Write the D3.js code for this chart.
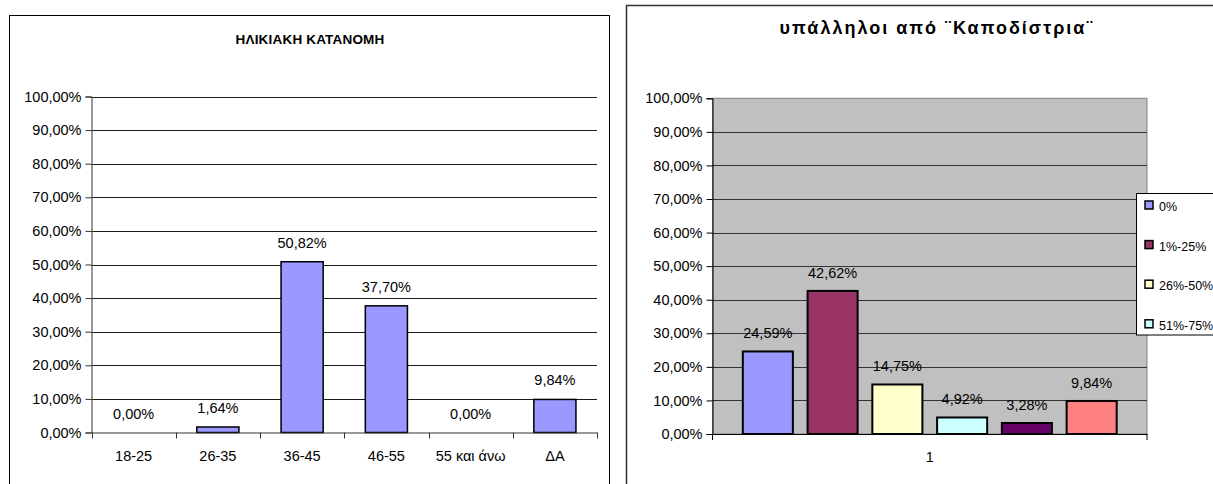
<!DOCTYPE html>
<html>
<head>
<meta charset="utf-8">
<script src="https://cdn.jsdelivr.net/npm/d3@7"></script>
<style>
  body { margin: 0; background: #fff; }
  svg { display: block; }
  text { font-family: "Liberation Sans", Arial, sans-serif; fill: #000; }
</style>
</head>
<body>
<svg id="chart" width="1213" height="484"></svg>
<script>
// Age distribution (left panel)
const ageGroups = ["18-25", "26-35", "36-45", "46-55", "55 και άνω", "ΔΑ"];
const ageShares = [0, 1.64, 50.82, 37.70, 0, 9.84];

// Staff from "Kapodistrias" (right panel): one category, six series
const staffCategories = ["1"];
const staffShares = [24.59, 42.62, 14.75, 4.92, 3.28, 9.84];
const staffColors = ["#9999FF", "#993366", "#FFFFCC", "#CCFFFF", "#660066", "#FF8080"];
const legendLabels = ["0%", "1%-25%", "26%-50%", "51%-75%"];

// Shared percentage ticks
const yTicks = [0, 10, 20, 30, 40, 50, 60, 70, 80, 90, 100];

const pct = v => v.toFixed(2).replace(".", ",") + "%";
const svg = d3.select("#chart");
const FONT = "Liberation Sans, Arial, sans-serif";

/* ---------------- Left panel: ΗΛΙΚΙΑΚΗ ΚΑΤΑΝΟΜΗ ---------------- */
{
  const g = svg.append("g");
  g.append("rect").attr("x", 9.5).attr("y", 15.5).attr("width", 600).attr("height", 480)
    .attr("fill", "#fff").attr("stroke", "#000").attr("stroke-width", 1);

  g.append("text").attr("x", 310).attr("y", 43.5).attr("text-anchor", "middle")
    .attr("font-size", 13.5).attr("font-weight", "bold").attr("letter-spacing", 0.2)
    .text("ΗΛΙΚΙΑΚΗ ΚΑΤΑΝΟΜΗ");

  const left = 91.5, right = 597;
  const x = d3.scaleBand().domain(ageGroups).range([left, right]).paddingInner(0.5).paddingOuter(0.25);
  const y = d3.scaleLinear().domain([0, 100]).range([432.5, 96.5]);

  // gridlines
  g.append("g").selectAll("line").data(yTicks.filter(t => t > 0)).join("line")
    .attr("x1", left).attr("x2", right)
    .attr("y1", d => Math.round(y(d)) + 0.5).attr("y2", d => Math.round(y(d)) + 0.5)
    .attr("stroke", "#1a1a1a").attr("stroke-width", 1);

  // y axis
  const ya = g.append("g").attr("transform", `translate(${left},0)`)
    .call(d3.axisLeft(y).tickValues(yTicks).tickSize(6).tickPadding(4).tickFormat(pct));
  ya.select(".domain").attr("stroke", "#333");
  ya.selectAll(".tick line").attr("stroke", "#333");
  ya.selectAll("text").attr("font-size", 14.5).attr("font-family", FONT).attr("fill", "#000");

  // bars
  g.append("g").selectAll("rect").data(ageShares).join("rect")
    .attr("x", (d, i) => x(ageGroups[i]))
    .attr("y", d => y(d))
    .attr("width", x.bandwidth())
    .attr("height", d => y(0) - y(d))
    .attr("fill", "#9999FF").attr("stroke", "#000").attr("stroke-width", 1.5)
    .attr("display", d => d > 0 ? null : "none");

  // value labels
  g.append("g").selectAll("text").data(ageShares).join("text")
    .attr("x", (d, i) => x(ageGroups[i]) + x.bandwidth() / 2)
    .attr("y", d => y(d) - 14)
    .attr("text-anchor", "middle").attr("font-size", 14.5).text(d => pct(d));

  // x axis: baseline, category boundary ticks, labels
  const xa = g.append("g").attr("transform", `translate(0,${y(0)})`)
    .call(d3.axisBottom(x).tickSize(0).tickPadding(18));
  xa.select(".domain").attr("stroke", "#333");
  xa.selectAll("text").attr("font-size", 14.5).attr("font-family", FONT).attr("fill", "#000");
  const bounds = ageGroups.map(c => x(c) - x.step() * x.paddingInner() / 2).concat([right]);
  bounds[0] = left;
  g.append("g").selectAll("line").data(bounds).join("line")
    .attr("x1", d => Math.round(d) + 0.5).attr("x2", d => Math.round(d) + 0.5)
    .attr("y1", y(0)).attr("y2", y(0) + 6).attr("stroke", "#333");
}

/* ---------------- Right panel: υπάλληλοι από ¨Καποδίστρια¨ ---------------- */
{
  const g = svg.append("g");
  g.append("rect").attr("x", 626.5).attr("y", 5.5).attr("width", 620).attr("height", 500)
    .attr("fill", "#fff").attr("stroke", "#333").attr("stroke-width", 1.5);

  g.append("text").attr("x", 937).attr("y", 33.5).attr("text-anchor", "middle")
    .attr("font-size", 18).attr("font-weight", "bold").attr("letter-spacing", 2)
    .text("υπάλληλοι από ¨Καποδίστρια¨");

  const left = 712.5, right = 1147;
  const x0 = d3.scaleBand().domain(staffCategories).range([left, right]);
  const x1 = d3.scaleBand().domain(d3.range(staffShares.length)).range([0, x0.bandwidth()])
    .paddingInner(0.227).paddingOuter(0.468);
  const y = d3.scaleLinear().domain([0, 100]).range([434, 98.3]);

  // plot area
  g.append("rect").attr("x", left).attr("y", y(100)).attr("width", right - left).attr("height", y(0) - y(100))
    .attr("fill", "#C0C0C0").attr("stroke", "#808080").attr("stroke-width", 1);

  // gridlines
  g.append("g").selectAll("line").data(yTicks.filter(t => t > 0 && t < 100)).join("line")
    .attr("x1", left).attr("x2", right)
    .attr("y1", d => Math.round(y(d)) + 0.5).attr("y2", d => Math.round(y(d)) + 0.5)
    .attr("stroke", "#333").attr("stroke-width", 1);

  // y axis
  const ya = g.append("g").attr("transform", `translate(${left},0)`)
    .call(d3.axisLeft(y).tickValues(yTicks).tickSize(6).tickPadding(4).tickFormat(pct));
  ya.select(".domain").attr("stroke", "#000");
  ya.selectAll(".tick line").attr("stroke", "#000");
  ya.selectAll("text").attr("font-size", 14.5).attr("font-family", FONT).attr("fill", "#000");

  // bars
  g.append("g").selectAll("rect").data(staffShares).join("rect")
    .attr("x", (d, i) => x0("1") + x1(i))
    .attr("y", d => y(d))
    .attr("width", x1.bandwidth())
    .attr("height", d => y(0) - y(d))
    .attr("fill", (d, i) => staffColors[i]).attr("stroke", "#000").attr("stroke-width", 2);

  // value labels
  g.append("g").selectAll("text").data(staffShares).join("text")
    .attr("x", (d, i) => x0("1") + x1(i) + x1.bandwidth() / 2)
    .attr("y", d => y(d) - 13)
    .attr("text-anchor", "middle").attr("font-size", 14.5).attr("fill", "#222").text(d => pct(d));

  // x axis
  const xa = g.append("g").attr("transform", `translate(0,${y(0)})`)
    .call(d3.axisBottom(x0).tickSize(0).tickPadding(18));
  xa.select(".domain").attr("stroke", "#000");
  xa.selectAll("text").attr("font-size", 14.5).attr("font-family", FONT).attr("fill", "#000");
  g.append("g").selectAll("line").data([left, right]).join("line")
    .attr("x1", d => d).attr("x2", d => d)
    .attr("y1", y(0)).attr("y2", y(0) + 6).attr("stroke", "#000");

  // legend
  const lg = g.append("g");
  lg.append("rect").attr("x", 1136.5).attr("y", 193.5).attr("width", 100).attr("height", 141.5)
    .attr("fill", "#fff").attr("stroke", "#000").attr("stroke-width", 1);
  const items = lg.selectAll("g").data(legendLabels).join("g")
    .attr("transform", (d, i) => `translate(1145,${206 + i * 39.6})`);
  items.append("rect").attr("x", 0).attr("y", -5).attr("width", 8).attr("height", 8)
    .attr("fill", (d, i) => staffColors[i]).attr("stroke", "#000").attr("stroke-width", 1.5);
  items.append("text").attr("x", 14).attr("y", 5).attr("font-size", 12.5).text(d => d);
}
</script>
</body>
</html>
